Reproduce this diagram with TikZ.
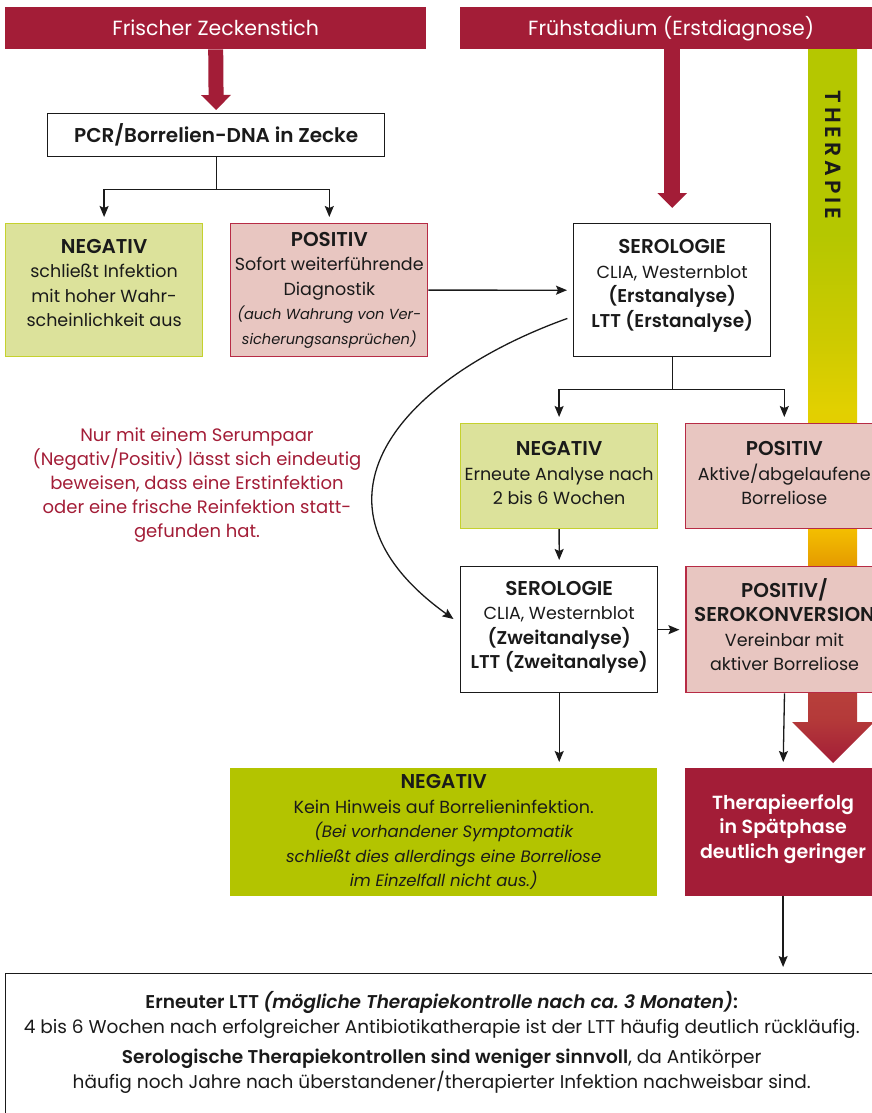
\documentclass[tikz,border=0pt]{standalone}
\usepackage{fontspec}
\setmainfont{Poppins}[BoldFont={Poppins SemiBold},BoldItalicFont={Poppins SemiBold Italic}]
\newfontfamily\zkspacedfont{Poppins}[LetterSpace=18,BoldFont={Poppins SemiBold}]
\usetikzlibrary{arrows.meta,positioning}
\newcommand{\zkbody}{\fontsize{17.5}{24.5}\selectfont}
\newcommand{\zktitle}{\fontsize{20}{25}\selectfont\bfseries}
\newcommand{\zkstrong}{\fontsize{18.5}{25}\selectfont\bfseries}
\newcommand{\zksmall}{\fontsize{14.6}{23}\selectfont\itshape}
\newcommand{\zkaside}{\fontsize{16.5}{23.5}\selectfont\itshape}
\newcommand{\zknote}{\fontsize{18}{24}\selectfont}
\newcommand{\zkfoot}{\fontsize{18.5}{25}\selectfont}
\newcommand{\zkhead}{\fontsize{20.5}{24}\selectfont}
\newcommand{\zkspaced}{\zkspacedfont\bfseries\fontsize{22}{22}\selectfont}
\newcommand{\zklift}[1]{\rule[-#1]{0pt}{#1}}
\definecolor{zkred}{HTML}{A31D37}
\definecolor{zkgreen}{HTML}{B3C400}
\definecolor{zklime}{HTML}{DCE29B}
\definecolor{zklimeline}{HTML}{C5D12E}
\definecolor{zkrose}{HTML}{E8C6C1}
\definecolor{zkroseline}{HTML}{B72B45}
\definecolor{zkink}{HTML}{1A1A1A}
\definecolor{thgreen}{HTML}{B5C700}
\definecolor{thlime}{HTML}{CCCA00}
\definecolor{thyellow}{HTML}{E2D000}
\definecolor{thgold}{HTML}{F4C000}
\definecolor{thorange}{HTML}{E59A00}
\definecolor{thbrick}{HTML}{B8403A}
\pgfdeclareverticalshading{therapyshade}{100bp}{color(0bp)=(zkred); color(25bp)=(zkred); color(28bp)=(thbrick!80!zkred); color(30bp)=(thbrick); color(38.8bp)=(thorange); color(41.5bp)=(thgold); color(49.7bp)=(thyellow); color(55bp)=(thlime); color(62bp)=(thgreen); color(100bp)=(thgreen)}
\tikzset{
  headBox/.style={fill=zkred, text=white, minimum height=42pt, inner sep=0pt, anchor=north west, font=\zkhead},
  zkBox/.style={minimum width=197pt, align=center, inner sep=3pt, anchor=north west, text=zkink, font=\zkbody},
  plainBox/.style={zkBox, draw=zkink, fill=white, line width=1.4pt},
  negBox/.style={zkBox, draw=zklimeline, fill=zklime, line width=1.2pt},
  posBox/.style={zkBox, draw=zkroseline, fill=zkrose, line width=1.2pt},
  resultBox/.style={zkBox, fill=zkgreen},
  lateBox/.style={zkBox, fill=zkred, text=white},
  headArrow/.style={-{Triangle[length=15pt,width=29pt]}, draw=zkred},
  thinLine/.style={line width=1.3pt, draw=zkink},
  thinArrow/.style={thinLine, -{Stealth[length=11pt,width=9pt,inset=2pt]}, shorten >=6pt},
  noteText/.style={text=zkred, align=center, font=\zknote},
  therapyLabel/.style={rotate=-90, text=zkink, font=\zkspaced}
}

\begin{document}
\begin{tikzpicture}[x=1pt, y=-1pt]
  \useasboundingbox (0,0) rectangle (871,1113);

  % therapy band, lies behind the result boxes
  \shade[shading=therapyshade] (808,49) -- (857,49) -- (857,722) -- (874,722) -- (833,763) -- (792,722) -- (808,722) -- cycle;
  \node[therapyLabel] (therapie) at (833,155) {THERAPIE};

  \node[headBox, minimum width=421pt] (tick) at (5,7) {Frischer Zeckenstich};
  \node[headBox, minimum width=422pt] (early) at (460,7) {Frühstadium (Erstdiagnose)};

  \node[plainBox, minimum width=337pt, minimum height=43pt, font=\fontsize{20}{24}\selectfont\bfseries] (pcr) at (47,113) {PCR/Borrelien-DNA in Zecke};
  \node[negBox, minimum height=133pt] (neg1) at (5,223) {{\zktitle NEGATIV}\\ schließt Infektion\\ mit hoher Wahr-\\ scheinlichkeit aus\zklift{14pt}};
  \node[posBox, minimum height=133pt, right=27pt of neg1] (pos1) {{\zktitle POSITIV}\\ Sofort weiterführende\\ Diagnostik\\ {\zksmall (auch Wahrung von Ver-}\\ {\zksmall sicherungsansprüchen)}};

  \node[plainBox, minimum height=133pt] (sero1) at (573,223) {{\zktitle SEROLOGIE}\\ CLIA, Westernblot\\ {\zkstrong (Erstanalyse)}\\ {\zkstrong LTT (Erstanalyse)}\zklift{14pt}};
  \node[negBox, minimum height=105pt] (neg2) at (460,423) {{\zktitle NEGATIV}\\ Erneute Analyse nach\\ 2 bis 6 Wochen\zklift{6pt}};
  \node[posBox, minimum height=105pt, right=27pt of neg2] (pos2) {{\zktitle POSITIV}\\ Aktive/abgelaufene\\ Borreliose\zklift{6pt}};
  \node[plainBox, minimum height=126pt] (sero2) at (460,566) {{\zktitle SEROLOGIE}\\ CLIA, Westernblot\\ {\zkstrong (Zweitanalyse)}\\ {\zkstrong LTT (Zweitanalyse)}\zklift{10pt}};
  \node[posBox, minimum height=126pt, right=27pt of sero2] (possero) {{\zktitle POSITIV/}\\ {\zktitle SEROKONVERSION}\\ Vereinbar mit\\ aktiver Borreliose\zklift{10pt}};

  \node[resultBox, minimum width=427pt, minimum height=128pt] (neg3) at (230,768) {{\zktitle NEGATIV}\\ Kein Hinweis auf Borrelieninfektion.\\ {\zkaside (Bei vorhandener Symptomatik}\\ {\zkaside schließt dies allerdings eine Borreliose}\\ {\zkaside im Einzelfall nicht aus.)}};
  \node[lateBox, minimum height=128pt, right=27pt of neg3, font=\fontsize{19}{24.5}\selectfont\bfseries] (late) {Therapieerfolg\\ in Spätphase\\ deutlich geringer\zklift{12pt}};

  \node[noteText] (note) at (197,485) {Nur mit einem Serumpaar\\ (Negativ/Positiv) lässt sich eindeutig\\ beweisen, dass eine Erstinfektion\\ oder eine frische Reinfektion statt-\\ gefunden hat.};

  \node[plainBox, minimum width=872pt, inner ysep=18pt, font=\zkfoot] (control) at (5,973) {\textbf{Erneuter LTT \textit{(mögliche Therapiekontrolle nach ca.~3~Monaten)}:}\\ 4 bis 6 Wochen nach erfolgreicher Antibiotikatherapie ist der LTT häufig deutlich rückläufig.\\[5pt] \textbf{Serologische Therapiekontrollen sind weniger sinnvoll}, da Antikörper\\ häufig noch Jahre nach überstandener/therapierter Infektion nachweisbar sind.\zklift{30pt}};

  \draw[headArrow, line width=15pt, shorten >=3pt] (tick.south) -- (pcr.north);
  \draw[headArrow, line width=16pt, shorten >=15pt] (early.south -| sero1.north) -- (sero1.north);

  \draw[thinLine] (pcr.south) -- ++(0,32) coordinate (pcrsplit);
  \draw[thinArrow] (pcrsplit) -| (neg1.north);
  \draw[thinArrow] (pcrsplit) -| (pos1.north);
  \draw[thinArrow] (pos1.east) -- (sero1.west);
  \draw[thinLine] (sero1.south) -- ++(0,32) coordinate (serosplit);
  \draw[thinArrow] (serosplit) -| (neg2.north);
  \draw[thinArrow] (serosplit) -| (pos2.north);
  \draw[thinArrow] (neg2.south) -- (sero2.north);
  \draw[thinArrow] (sero2.east) -- (possero.west);
  \draw[thinArrow] (sero2.south) -- (neg3.north -| sero2.south);
  \draw[thinArrow] (possero.south) -- (late.north);
  \draw[thinArrow] (late.south) -- (control.north -| late.south);
  \draw[thinArrow, shorten <=6pt, shorten >=8pt] ([yshift=41pt]sero1.south west) .. controls (399,379) and (292,503) .. ([yshift=6pt]sero2.west);
\end{tikzpicture}
\end{document}
